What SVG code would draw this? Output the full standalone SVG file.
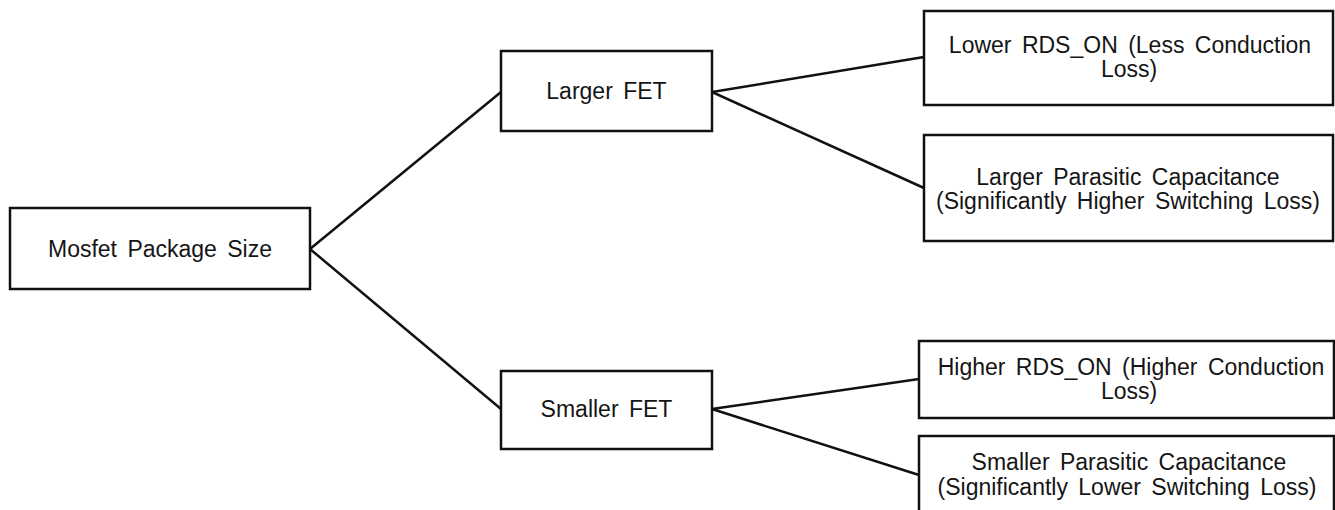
<svg xmlns="http://www.w3.org/2000/svg" width="1335" height="510" viewBox="0 0 1335 510">
<style>
.box{fill:#fff;stroke:#111;stroke-width:2.5}
.lbl{font-family:"Liberation Sans",Arial,sans-serif;font-size:23px;fill:#151515;text-anchor:middle;word-spacing:4px}
.con{stroke:#111;stroke-width:2.5;fill:none}
</style>
<rect width="1335" height="510" fill="#fff"/>
<g id="connectors">
<line class="con" x1="310" y1="249" x2="501" y2="92"/>
<line class="con" x1="310" y1="249" x2="501" y2="409"/>
<line class="con" x1="712" y1="92" x2="924" y2="57"/>
<line class="con" x1="712" y1="92" x2="924" y2="188"/>
<line class="con" x1="712" y1="409" x2="919" y2="379"/>
<line class="con" x1="712" y1="409" x2="919" y2="475"/>
</g>
<g id="root">
<rect class="box" x="10" y="208" width="300" height="81"/>
<text class="lbl" x="160" y="257">Mosfet Package Size</text>
</g>
<g id="larger">
<rect class="box" x="501" y="51" width="211" height="80"/>
<text class="lbl" x="606.5" y="99">Larger FET</text>
</g>
<g id="smaller">
<rect class="box" x="501" y="371" width="211" height="78"/>
<text class="lbl" x="606.5" y="417">Smaller FET</text>
</g>
<g id="lower-rds">
<rect class="box" x="924" y="11" width="409" height="94"/>
<text class="lbl" x="1130" y="53">Lower RDS_ON (Less Conduction</text>
<text class="lbl" x="1129" y="77">Loss)</text>
</g>
<g id="larger-cap">
<rect class="box" x="924" y="135" width="409" height="106"/>
<text class="lbl" x="1128" y="185">Larger Parasitic Capacitance</text>
<text class="lbl" x="1128" y="209">(Significantly Higher Switching Loss)</text>
</g>
<g id="higher-rds">
<rect class="box" x="919" y="341" width="415" height="77"/>
<text class="lbl" x="1131" y="375">Higher RDS_ON (Higher Conduction</text>
<text class="lbl" x="1129" y="399">Loss)</text>
</g>
<g id="smaller-cap">
<rect class="box" x="919" y="436" width="415" height="90"/>
<text class="lbl" x="1129" y="470">Smaller Parasitic Capacitance</text>
<text class="lbl" x="1127" y="495">(Significantly Lower Switching Loss)</text>
</g>
</svg>
